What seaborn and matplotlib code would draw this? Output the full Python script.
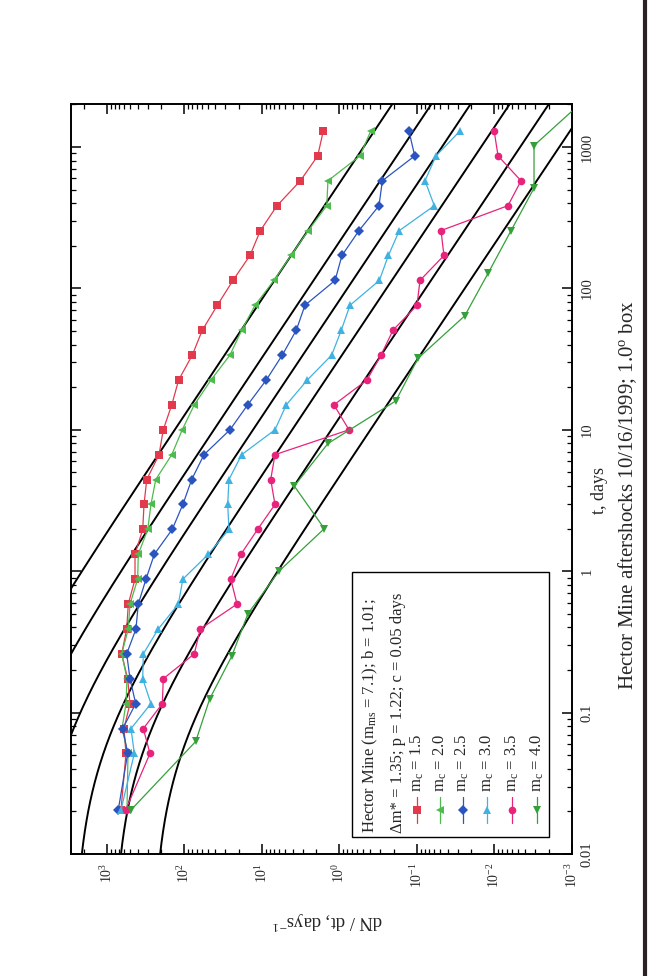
import numpy as np
import pandas as pd
import matplotlib
matplotlib.use("Agg")
import matplotlib.pyplot as plt
import seaborn as sns
from matplotlib.ticker import LogLocator, LogFormatterMathtext, FixedLocator, FixedFormatter, NullFormatter
from matplotlib.patches import Rectangle
from matplotlib.lines import Line2D

# ---- aftershock rates dN/dt (per day) versus time since the mainshock ----
t_bins = [1298, 865.3, 576.9, 384.6, 256.4, 170.9, 113.9, 75.97, 50.65, 33.77,
          22.51, 15.01, 10.0, 6.67, 4.447, 2.965, 1.976, 1.318, 0.8783, 0.5855,
          0.3904, 0.2602, 0.1735, 0.1157, 0.0771, 0.0514, 0.0205]
t_bins_m40 = [2048, 1024, 512, 256, 128, 64, 32, 16, 8, 4, 2, 1, 0.5, 0.25,
              0.125, 0.0625, 0.0205]

rate_m15 = [1.62, 1.91, 3.2, 6.4, 10.5, 14.3, 23.7, 37.7, 58.9, 79.3, 119, 146,
            188, 213, 307, 333, 346, 435, 435, 531, 557, 646, 541, 505, 604, 569, 660]
rate_m20 = [0.395, 0.544, 1.41, 1.46, 2.53, 4.23, 7.0, 12.3, 18.3, 25.9, 45.5, 74.8,
            107, 146, 235, 271, 298, 395, 402, 505, 531, 646, 552, 569, 640, 536, 552]
rate_m25 = [0.127, 0.107, 0.280, 0.309, 0.56, 0.93, 1.14, 2.79, 3.61, 5.47, 8.8, 15.3,
            25.9, 56, 80.8, 105, 144, 245, 314, 395, 423, 557, 505, 426, 627, 541, 715]
rate_m30 = [0.0279, 0.0569, 0.0788, 0.0598, 0.169, 0.234, 0.306, 0.732, 0.948, 1.26,
            2.60, 4.86, 6.8, 18.3, 26.7, 27.7, 26.7, 49.3, 105, 120, 218, 340, 346,
            271, 490, 444, 660]
rate_m35 = [0.0101, 0.0090, 0.00455, 0.0067, 0.049, 0.0449, 0.0915, 0.1, 0.204, 0.291,
            0.442, 1.18, 0.754, 6.8, 7.72, 6.8, 11.4, 18.7, 25.3, 21.0, 62.5, 74.8,
            188, 193, 340, 279, 574]
rate_m40 = [0.000766, 0.00309, 0.00309, 0.00612, 0.0121, 0.0242, 0.0971, 0.188, 1.41,
            3.83, 1.57, 6.04, 15.2, 24.6, 47.3, 71.7, 490]

m_c_labels = ["1.5", "2.0", "2.5", "3.0", "3.5", "4.0"]
colors = ["#e23a4c", "#4dbb4d", "#2a55bf", "#3fb2e2", "#e8237c", "#35a03a"]
markers = ["s", "<", "D", "^", "o", "v"]

rate_ticks = [1e3, 1e2, 1e1, 1e0, 1e-1, 1e-2, 1e-3]
t_ticks = [0.01, 0.1, 1, 10, 100, 1000]
t_tick_labels = ["0.01", "0.1", "1", "10", "100", "1000"]

# BASS / modified Omori parameters
m_ms = 7.1
b_val = 1.01
dm_star = 1.35
p_val = 1.22
c_val = 0.05

# ---- style ----
sns.set_theme(style="white")
plt.rcParams["font.family"] = ["Liberation Serif", "DejaVu Serif"]
plt.rcParams["mathtext.fontset"] = "custom"
plt.rcParams["mathtext.rm"] = "Liberation Serif"
plt.rcParams["mathtext.it"] = "Liberation Serif:italic"
plt.rcParams["mathtext.bf"] = "Liberation Serif:bold"

fig = plt.figure(figsize=(6.49, 9.76), dpi=100)
fig.patch.set_facecolor("white")
ax = fig.add_axes([71 / 649, 1 - 854 / 976, (572 - 71) / 649, (854 - 104) / 976])
ax.set_facecolor("white")

# Omori-law curves for each magnitude cutoff
t_model = np.logspace(-2, np.log10(2100), 400)
for lab in m_c_labels:
    mc = float(lab)
    n_tot = 10 ** (b_val * (m_ms - dm_star - mc))
    model = (p_val - 1) / c_val * n_tot * (1 + t_model / c_val) ** (-p_val)
    ax.plot(model, t_model, color="black", lw=1.4, zorder=2)

# observed rates
frames = []
series = [rate_m15, rate_m20, rate_m25, rate_m30, rate_m35, rate_m40]
for lab, rates in zip(m_c_labels, series):
    tt = t_bins_m40 if lab == "4.0" else t_bins
    frames.append(pd.DataFrame({"t": tt, "rate": rates, "m_c": lab}))
df = pd.concat(frames, ignore_index=True)

sns.lineplot(data=df, x="rate", y="t", hue="m_c", style="m_c",
             hue_order=m_c_labels, style_order=m_c_labels,
             palette=dict(zip(m_c_labels, colors)),
             markers=dict(zip(m_c_labels, markers)), dashes=False,
             estimator=None, sort=False, linewidth=0.9, markersize=5.5,
             markeredgewidth=0, legend=False, ax=ax, zorder=3)

ax.set_xscale("log")
ax.set_yscale("log")
ax.set_xlim(10 ** 3.4645, 1e-3)
ax.set_ylim(0.01, 2014)

# ticks
ax.xaxis.set_major_locator(FixedLocator(rate_ticks))
ax.xaxis.set_major_formatter(LogFormatterMathtext())
ax.xaxis.set_minor_locator(LogLocator(base=10, subs=np.arange(2, 10), numticks=20))
ax.xaxis.set_minor_formatter(NullFormatter())
ax.yaxis.set_major_locator(FixedLocator(t_ticks))
ax.yaxis.set_major_formatter(FixedFormatter(t_tick_labels))
ax.yaxis.set_minor_locator(LogLocator(base=10, subs=np.arange(2, 10), numticks=20))
ax.yaxis.set_minor_formatter(NullFormatter())

ax.tick_params(which="both", direction="in", top=True, bottom=True, left=True,
               right=True, labelleft=False, labelright=True, color="black")
ax.tick_params(which="major", length=7, width=1.1)
ax.tick_params(which="minor", length=3.5, width=0.9)
ax.tick_params(axis="x", labelsize=10, labelrotation=90, pad=6)
ax.tick_params(axis="y", labelsize=10.5, labelrotation=90, pad=6)
for lbl in ax.get_yticklabels():
    lbl.set_va("center")
for sp in ax.spines.values():
    sp.set_color("black")
    sp.set_linewidth(1.4)
ax.set_xlabel("")
ax.set_ylabel("")

# axis titles and figure title
fig.text(600 / 649, 1 - 490 / 976, "t, days", rotation=90, ha="center",
         va="center", fontsize=13)
fig.text(327 / 649, 1 - 921 / 976, "dN / dt, days$^{-1}$", rotation=180,
         ha="center", va="center", fontsize=13.5)
fig.text(628 / 649, 1 - 495 / 976,
         "Hector Mine aftershocks 10/16/1999; 1.0$^\\mathrm{o}$ box",
         rotation=90, ha="center", va="center", fontsize=15)

# page edge on the right
fig.add_artist(Line2D([645 / 649, 645 / 649], [0, 1], transform=fig.transFigure,
                      color="#2a2222", lw=3))

# legend box with vertical text
tr = ax.transAxes
ax.add_patch(Rectangle((0.561, 0.0227), 0.954 - 0.561, 0.376 - 0.0227,
                       transform=tr, facecolor="white", edgecolor="black",
                       lw=1.0, zorder=5))
ax.text(0.597, 0.028, "Hector Mine (m$_\\mathrm{ms}$ = 7.1); b = 1.01;",
        transform=tr, rotation=90, ha="center", va="bottom", fontsize=12, zorder=6)
ax.text(0.653, 0.028, "\u0394m* = 1.35; p = 1.22; c = 0.05 days",
        transform=tr, rotation=90, ha="center", va="bottom", fontsize=12, zorder=6)
entry_x = [0.691, 0.737, 0.782, 0.830, 0.880, 0.930]
for xe, lab, col, mk in zip(entry_x, m_c_labels, colors, markers):
    ax.plot([xe, xe], [0.041, 0.076], transform=tr, color=col, lw=0.9, zorder=6)
    ax.plot([xe], [0.0587], transform=tr, color=col, marker=mk, ms=5.5,
            mew=0, zorder=7)
    ax.text(xe, 0.082, "m$_\\mathrm{c}$ = " + lab, transform=tr, rotation=90,
            ha="center", va="bottom", fontsize=12, zorder=6)

fig.savefig("out.png", dpi=100, facecolor="white")
